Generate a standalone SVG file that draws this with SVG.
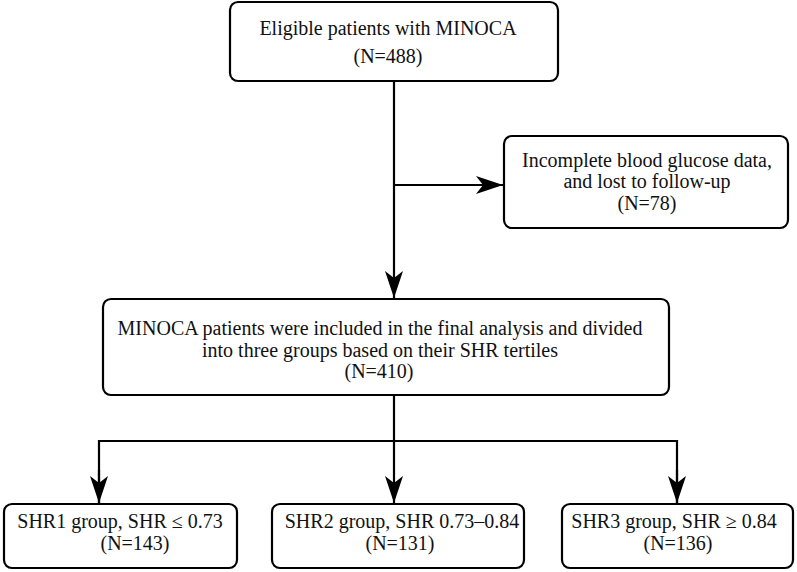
<svg xmlns="http://www.w3.org/2000/svg" width="797" height="572" viewBox="0 0 797 572">
<defs>
<style>
.box{fill:#fff;stroke:#000;stroke-width:2.2}
.t{font-family:"Liberation Serif","Times New Roman",serif;font-size:20px;fill:#111;text-anchor:middle}
.ln{fill:none;stroke:#000;stroke-width:2.2}
</style>
<marker id="ah" markerUnits="userSpaceOnUse" markerWidth="30" markerHeight="22" viewBox="-28 -11 30 22" refX="0" refY="0" orient="auto">
<path d="M0,0 L-27,-9 L-20,0 L-27,9 Z" fill="#000"/>
</marker>
</defs>
<rect width="797" height="572" fill="#fff"/>
<g id="connectors">
<line class="ln" x1="394" y1="81" x2="394" y2="298" marker-end="url(#ah)"/>
<line class="ln" x1="394" y1="185" x2="503" y2="185" marker-end="url(#ah)"/>
<line class="ln" x1="394" y1="395" x2="394" y2="503" marker-end="url(#ah)"/>
<polyline class="ln" points="99,503 99,441 677,441 677,503"/>
<line class="ln" x1="99" y1="470" x2="99" y2="503" marker-end="url(#ah)"/>
<line class="ln" x1="677" y1="470" x2="677" y2="503" marker-end="url(#ah)"/>
</g>
<g id="node-eligible">
<rect class="box" x="230" y="2" width="328" height="79" rx="8"/>
<text class="t" x="388" y="35">Eligible patients with MINOCA</text>
<text class="t" x="388" y="63">(N=488)</text>
</g>
<g id="node-excluded">
<rect class="box" x="504" y="136" width="284" height="92" rx="8"/>
<text class="t" x="647" y="167">Incomplete blood glucose data,</text>
<text class="t" x="647" y="188">and lost to follow-up</text>
<text class="t" x="647" y="210">(N=78)</text>
</g>
<g id="node-included">
<rect class="box" x="103" y="299" width="566" height="96" rx="8"/>
<text class="t" x="380" y="335">MINOCA patients were included in the final analysis and divided</text>
<text class="t" x="380" y="357">into three groups based on their SHR tertiles</text>
<text class="t" x="379" y="378">(N=410)</text>
</g>
<g id="node-shr1">
<rect class="box" x="4" y="504" width="233" height="64" rx="8"/>
<text class="t" x="120" y="528">SHR1 group, SHR ≤ 0.73</text>
<text class="t" x="135" y="550">(N=143)</text>
</g>
<g id="node-shr2">
<rect class="box" x="272" y="504" width="252" height="64" rx="8"/>
<text class="t" x="402" y="528">SHR2 group, SHR 0.73–0.84</text>
<text class="t" x="400" y="550">(N=131)</text>
</g>
<g id="node-shr3">
<rect class="box" x="562" y="504" width="231" height="64" rx="8"/>
<text class="t" x="674" y="528">SHR3 group, SHR ≥ 0.84</text>
<text class="t" x="678" y="550">(N=136)</text>
</g>
</svg>
